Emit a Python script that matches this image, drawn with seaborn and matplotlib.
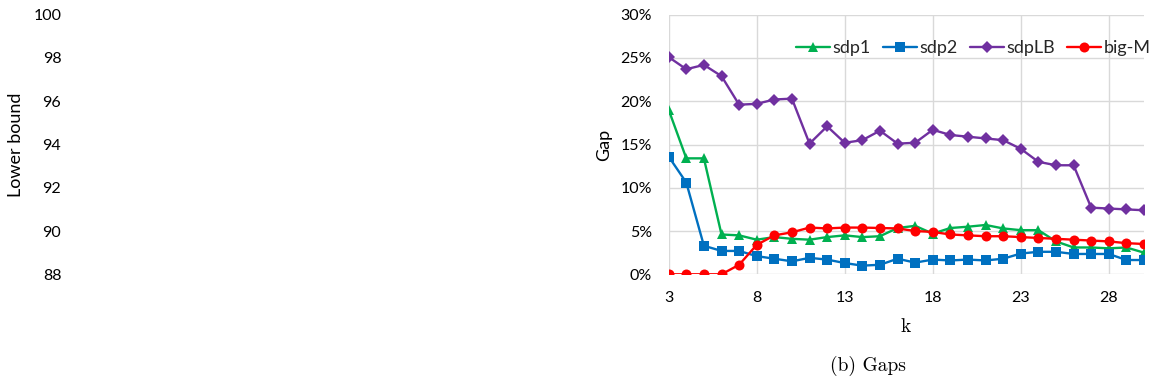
import matplotlib
matplotlib.use("Agg")
import matplotlib.pyplot as plt
from matplotlib.ticker import PercentFormatter, FixedLocator
import seaborn as sns
import pandas as pd

# Number of clusters k
k_values = list(range(3, 31))

# Optimality gaps (%) per method
sdp1 = [19.0, 13.4, 13.4, 4.6, 4.5, 4.0, 4.3, 4.1, 4.0, 4.3, 4.5, 4.3, 4.4, 5.35,
        5.6, 4.7, 5.35, 5.5, 5.7, 5.3, 5.1, 5.1, 3.8, 3.1, 3.1, 3.0, 3.1, 2.5]
sdp2 = [13.6, 10.6, 3.3, 2.7, 2.7, 2.1, 1.8, 1.5, 1.9, 1.7, 1.3, 1.0, 1.1, 1.8,
        1.35, 1.7, 1.6, 1.7, 1.6, 1.8, 2.4, 2.6, 2.6, 2.35, 2.35, 2.35, 1.65, 1.65]
sdpLB = [25.1, 23.7, 24.2, 22.9, 19.6, 19.7, 20.2, 20.3, 15.1, 17.1, 15.2, 15.5, 16.6, 15.1,
         15.2, 16.7, 16.1, 15.9, 15.7, 15.5, 14.5, 13.0, 12.6, 12.6, 7.7, 7.6, 7.5, 7.4]
bigM = [0.0, 0.0, 0.0, 0.0, 1.1, 3.4, 4.5, 4.85, 5.4, 5.3, 5.4, 5.4, 5.35, 5.3,
        5.0, 4.9, 4.6, 4.5, 4.4, 4.4, 4.3, 4.2, 4.1, 4.0, 3.9, 3.8, 3.6, 3.5]

series_names = ["sdp1", "sdp2", "sdpLB", "big-M"]
x_ticks = [3, 8, 13, 18, 23, 28]
gap_ticks = [0, 5, 10, 15, 20, 25, 30]
lb_ticks = [88, 90, 92, 94, 96, 98, 100]

df = pd.DataFrame({
    "k": k_values * 4,
    "gap": sdp1 + sdp2 + sdpLB + bigM,
    "method": sum([[n] * len(k_values) for n in series_names], []),
})

palette = {"sdp1": "#00B050", "sdp2": "#0070C0", "sdpLB": "#7030A0", "big-M": "#FF0000"}
markers = {"sdp1": "^", "sdp2": "s", "sdpLB": "D", "big-M": "o"}

sns.set_theme(style="white")
plt.rcParams["font.family"] = ["Lato", "DejaVu Sans"]

W, H = 1153, 390
fig = plt.figure(figsize=(W / 100, H / 100), dpi=100)

top_px, bot_px = 14.7, 274.3
ax_bottom = 1 - bot_px / H
ax_height = (bot_px - top_px) / H

tick_size = 11.5
title_size = 13
legend_size = 13
grid_color = "#d9d9d9"

# Left panel: lower-bound axis
axl_left, axl_right = 78, 480
axl = fig.add_axes([axl_left / W, ax_bottom, (axl_right - axl_left) / W, ax_height])
axl.set_ylim(88, 100)
axl.yaxis.set_major_locator(FixedLocator(lb_ticks))
axl.set_xticks([])
for s in axl.spines.values():
    s.set_visible(False)
axl.tick_params(axis="y", length=0, pad=12, labelsize=tick_size, labelcolor="black")
axl.set_ylabel("Lower bound", fontsize=title_size, color="black")
axl.yaxis.set_label_coords((24 - axl_left) / (axl_right - axl_left), 0.5)
axl.patch.set_alpha(0)

# Right panel: gaps
left_px, right_px = 668.7, 1144.0
ax = fig.add_axes([left_px / W, ax_bottom, (right_px - left_px) / W, ax_height])
sns.lineplot(data=df, x="k", y="gap", hue="method", style="method",
             hue_order=series_names, style_order=series_names,
             palette=palette, markers=markers, dashes=False,
             linewidth=1.7, markersize=7.2, markeredgewidth=0, ax=ax)
for line in ax.lines:
    if line.get_marker() == "D":
        line.set_markersize(5.8)

ax.set_xlim(3, 30)
ax.set_ylim(0, 30)
ax.xaxis.set_major_locator(FixedLocator(x_ticks))
ax.yaxis.set_major_locator(FixedLocator(gap_ticks))
ax.yaxis.set_major_formatter(PercentFormatter(100, decimals=0))
ax.grid(True, color=grid_color, linewidth=1.0)
ax.set_axisbelow(True)
for s in ax.spines.values():
    s.set_visible(False)
ax.tick_params(axis="both", length=0, labelsize=tick_size, labelcolor="black")
ax.tick_params(axis="y", pad=12)
ax.tick_params(axis="x", pad=12)

span_x = right_px - left_px
span_y = bot_px - top_px
ax.set_ylabel("Gap", fontsize=title_size, color="black")
ax.yaxis.set_label_coords((612 - left_px) / span_x, 0.5)
ax.set_xlabel("k", fontsize=14, family="cmr10", color="black")
ax.xaxis.set_label_coords((906 - left_px) / span_x, -(318 - bot_px) / span_y)

handles, labels = ax.get_legend_handles_labels()
ax.legend(handles, labels, ncol=4, frameon=False, fontsize=legend_size,
          loc="center right", bbox_to_anchor=(1151 / W, 1 - 48.5 / H),
          bbox_transform=fig.transFigure, handlelength=1.9, handletextpad=0.15,
          columnspacing=0.65, borderaxespad=0, borderpad=0)

fig.text(868 / W, 1 - 366 / H, "(b) Gaps", family="cmr10", fontsize=14,
         ha="center", va="center", color="black")

fig.savefig("out.png", dpi=100)
